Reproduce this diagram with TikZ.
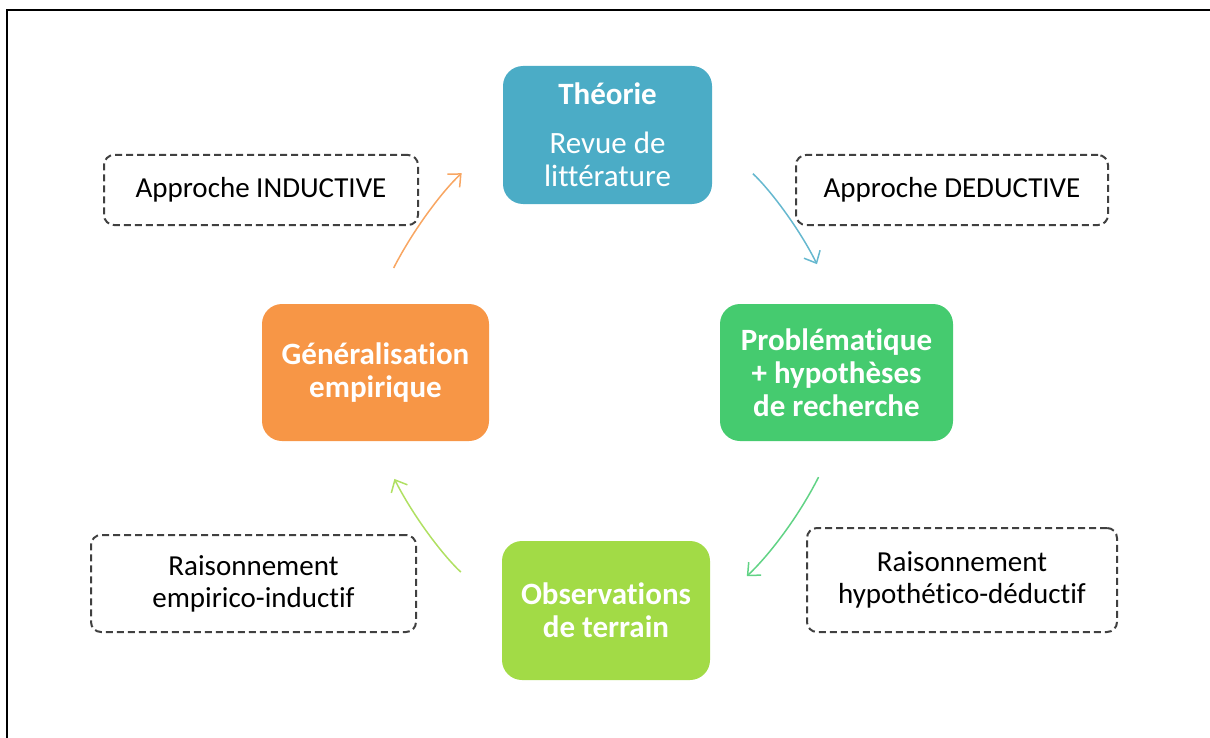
\documentclass[tikz,border=0pt]{standalone}
\usepackage{fontspec}
\setmainfont[Ligatures=CommonOff]{Carlito}
\usepackage{tikz}
\usetikzlibrary{arrows.meta}
\definecolor{theoblue}{HTML}{4BACC6}
\definecolor{probgreen}{HTML}{45CB6F}
\definecolor{obslime}{HTML}{A2DB46}
\definecolor{genorange}{HTML}{F79646}
\definecolor{notegray}{HTML}{404040}
\newcommand{\cyclefont}{\fontsize{14.5pt}{16pt}\selectfont}
\newcommand{\stagefont}{\fontsize{15.5pt}{16.5pt}\selectfont}
\tikzset{
  stage/.style={rounded corners=10pt, inner sep=0pt, text=white, align=center, font=\stagefont\bfseries},
  note/.style={draw=notegray, line width=1pt, dash pattern=on 3.5pt off 2pt, rounded corners=5pt, inner sep=0pt, align=center, font=\cyclefont},
  cyclearrow/.style={-{Straight Barb[length=5pt,width=9pt]}, line width=0.75pt, bend left=10},
}

\begin{document}
\begin{tikzpicture}[x=0.5pt, y=-0.5pt]
\useasboundingbox (0,0) rectangle (1210,738);
\draw[line width=1pt] (7,738) -- (7,10) -- (1210,10);
% the four stages
\node[stage, fill=theoblue, minimum width=104.5pt, minimum height=69pt] (theo) at (607.5,135)
  {Théorie\\[8pt]\mdseries Revue de\\\mdseries littérature};
\node[stage, fill=probgreen, minimum width=116.5pt, minimum height=68.5pt] (prob) at (836.5,372.5)
  {Problématique\\+ hypothèses\\de recherche};
\node[stage, fill=obslime, minimum width=104pt, minimum height=69.5pt] (obs) at (606,610.5)
  {Observations\\de terrain};
\node[stage, fill=genorange, minimum width=113.5pt, minimum height=68.5pt] (gen) at (375.5,372.5)
  {Généralisation\\empirique};
% dashed notes
\node[note, minimum width=157pt, minimum height=35pt] (induc) at (261,190) {Approche INDUCTIVE};
\node[note, minimum width=156pt, minimum height=35pt] (deduc) at (952,190) {Approche DEDUCTIVE};
\node[note, minimum width=162.5pt, minimum height=48.5pt] (empir) at (253.5,583.5) {Raisonnement\\empirico-inductif};
\node[note, minimum width=155pt, minimum height=52pt] (hypot) at (962,580) {Raisonnement\\hypothético-déductif};
% cycle arrows
\draw[cyclearrow, theoblue!85, shorten <=28pt, shorten >=22pt] (theo.east) to (prob.north);
\draw[cyclearrow, probgreen!85, shorten <=20pt, shorten >=25pt] (prob.south) to (obs.east);
\draw[cyclearrow, obslime!85, shorten <=28pt, shorten >=21pt] (obs.west) to (gen.south);
\draw[cyclearrow, genorange!85, shorten <=20pt, shorten >=28pt] (gen.north) to (theo.west);
\end{tikzpicture}
\end{document}
